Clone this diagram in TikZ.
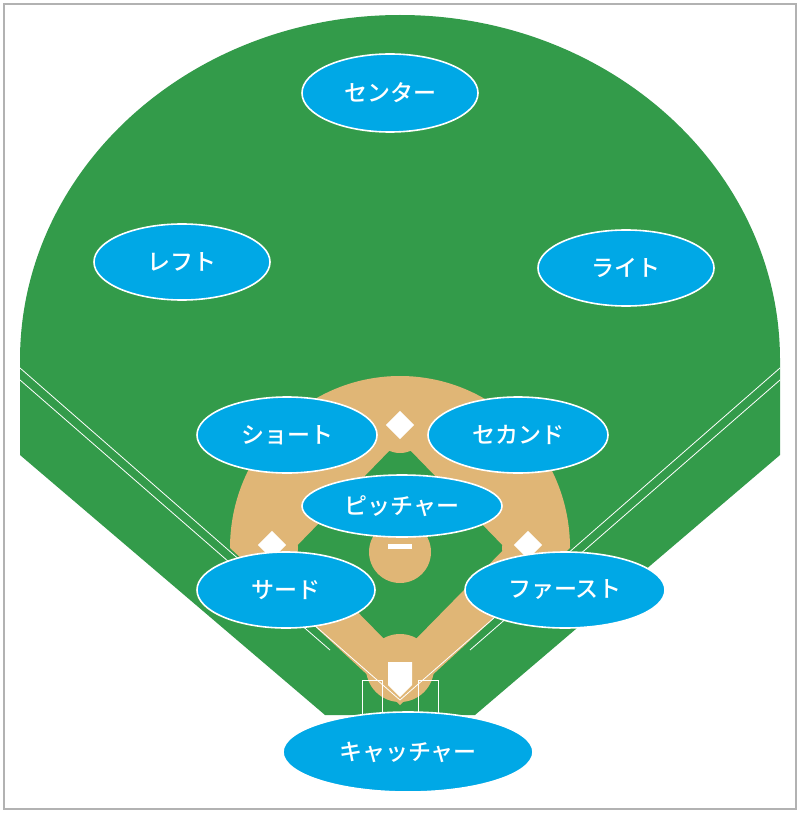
\documentclass[tikz,border=0pt]{standalone}
\usepackage{fontspec}
\newfontfamily\jp{Noto Sans CJK JP Medium}
\definecolor{grass}{HTML}{339B4A}
\definecolor{dirt}{HTML}{E0B676}
\definecolor{pos}{HTML}{00A8E6}
\usetikzlibrary{shapes.geometric}
\begin{document}
\begin{tikzpicture}[x=1pt,y=-1pt,
  player/.style={ellipse,fill=pos,draw=white,line width=1.6pt,text=white,font=\jp\fontsize{23}{23}\selectfont,inner sep=0pt},
  base/.style={fill=white,rotate=45,minimum size=20pt,inner sep=0pt},
  line/.style={draw=white,line width=0.8pt}]
\useasboundingbox (0,0) rectangle (800,813);
\fill[white] (0,0) rectangle (800,813);
\draw[gray!60,line width=1.5pt] (4,4) rectangle (796,809);
% field
\fill[grass] (20,455) -- (20,360) arc[start angle=180,end angle=360,x radius=380,y radius=345] -- (780,455) -- (475,715) -- (325,715) -- cycle;
% infield dirt
\fill[dirt] (230,548) arc[start angle=180,end angle=360,x radius=170,y radius=172] -- (400,705) -- cycle;
\fill[grass] (400,440) -- (505,548) -- (400,655) -- (295,548) -- cycle;
\fill[dirt] (400,425) circle[radius=28];
\fill[dirt] (272,548) circle[radius=26];
\fill[dirt] (528,548) circle[radius=26];
\fill[dirt] (400,552) circle[radius=31];
\fill[dirt] (400,668) circle[radius=34];
\fill[white] (388,544) rectangle (412,549);
% foul lines
\draw[line] (20,368) -- (400,700); \draw[line] (20,380) -- (330,650);
\draw[line] (780,368) -- (400,700); \draw[line] (780,380) -- (470,650);
\draw[line] (362,680) rectangle (382,715); \draw[line] (418,680) rectangle (438,715);
% bases
\node[base] (b2) at (400,425) {};
\node[base] (b3) at (272,545) {};
\node[base] (b1) at (528,545) {};
\fill[white] (388,662) -- (412,662) -- (412,685) -- (400,697) -- (388,685) -- cycle;
% players
\node[player,minimum width=176pt,minimum height=78pt] (cf) at (390,93) {センター};
\node[player,minimum width=176pt,minimum height=76pt] (lf) at (182,262) {レフト};
\node[player,minimum width=176pt,minimum height=76pt] (rf) at (626,268) {ライト};
\node[player,minimum width=180pt,minimum height=76pt] (ss) at (287,435) {ショート};
\node[player,minimum width=180pt,minimum height=76pt] (2b) at (518,435) {セカンド};
\node[player,minimum width=200pt,minimum height=62pt] (p) at (402,506) {ピッチャー};
\node[player,minimum width=178pt,minimum height=76pt] (3b) at (286,590) {サード};
\node[player,minimum width=200pt,minimum height=76pt] (1b) at (565,590) {ファースト};
\node[player,minimum width=250pt,minimum height=80pt] (c) at (408,752) {キャッチャー};
\end{tikzpicture}
\end{document}
